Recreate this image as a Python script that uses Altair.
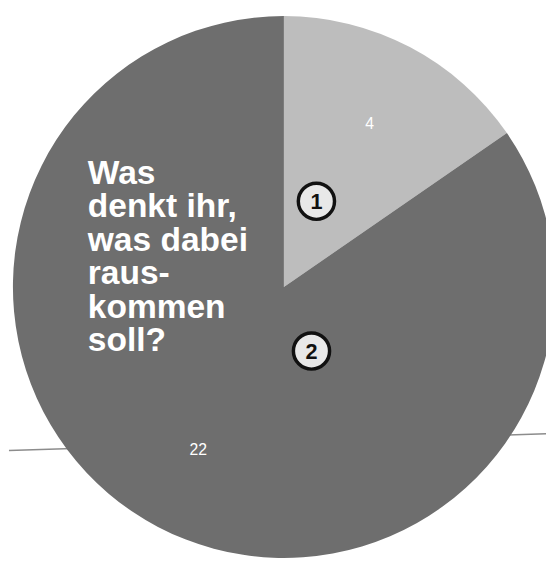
import altair as alt
import pandas as pd

# ---- data ----
categories = ["1", "2"]
values = [4, 22]
slice_colors = ["#bdbdbd", "#6e6e6e"]
question_lines = ["Was", "denkt ihr,", "was dabei", "raus-", "kommen", "soll?"]
marker_labels = ["1", "2"]

# ---- layout (chart coordinates, page minus 8px margin) ----
W, H = 546, 555
CX, CY = 279, 279
R = 275
LABEL_R = 187

df = pd.DataFrame({"cat": categories, "value": values, "order": list(range(len(values)))})

base = alt.Chart(df).encode(
    theta=alt.Theta("value:Q", stack=True),
    order=alt.Order("order:Q"),
)

pie = base.mark_arc(outerRadius=R).encode(
    color=alt.Color("cat:N", scale=alt.Scale(domain=categories, range=slice_colors), legend=None),
    x=alt.value(CX),
    y=alt.value(CY),
)

labels = base.mark_text(
    radius=LABEL_R, color="white", font="Liberation Sans", fontSize=16, align="center", baseline="middle"
).encode(
    text=alt.Text("value:Q"),
    x=alt.value(CX),
    y=alt.value(CY),
)

one = alt.Chart(pd.DataFrame({"k": [0]}))

line = one.mark_rule(color="#8c8c8c", strokeWidth=1.5).encode(
    x=alt.value(0), x2=alt.value(W), y=alt.value(445), y2=alt.value(428)
)

question = one.mark_text(
    text=question_lines,
    font="Liberation Sans",
    fontWeight="bold",
    fontSize=34,
    lineHeight=34,
    color="white",
    align="left",
    baseline="alphabetic",
).encode(x=alt.value(80), y=alt.value(174))

marker_pos = [(312, 192), (307, 344)]
marker_layers = []
for lab, (mx, my) in zip(marker_labels, marker_pos):
    marker_layers.append(
        one.mark_point(shape="circle", size=1350, filled=True, fill="#e8e8e8", stroke="#111111",
                       strokeWidth=3.5, opacity=1).encode(x=alt.value(mx), y=alt.value(my))
    )
    marker_layers.append(
        one.mark_text(text=lab, font="Liberation Sans", fontWeight="bold", fontSize=22,
                      color="#111111", align="center", baseline="middle").encode(
            x=alt.value(mx), y=alt.value(my + 1))
    )

chart = alt.layer(line, pie, labels, question, *marker_layers).properties(
    width=W,
    height=H,
    padding=0,
    autosize=alt.AutoSizeParams(type="fit", contains="padding"),
    background="white",
).configure_view(stroke=None)

chart.save("out.html", embed_options={"renderer": "svg", "actions": False})
